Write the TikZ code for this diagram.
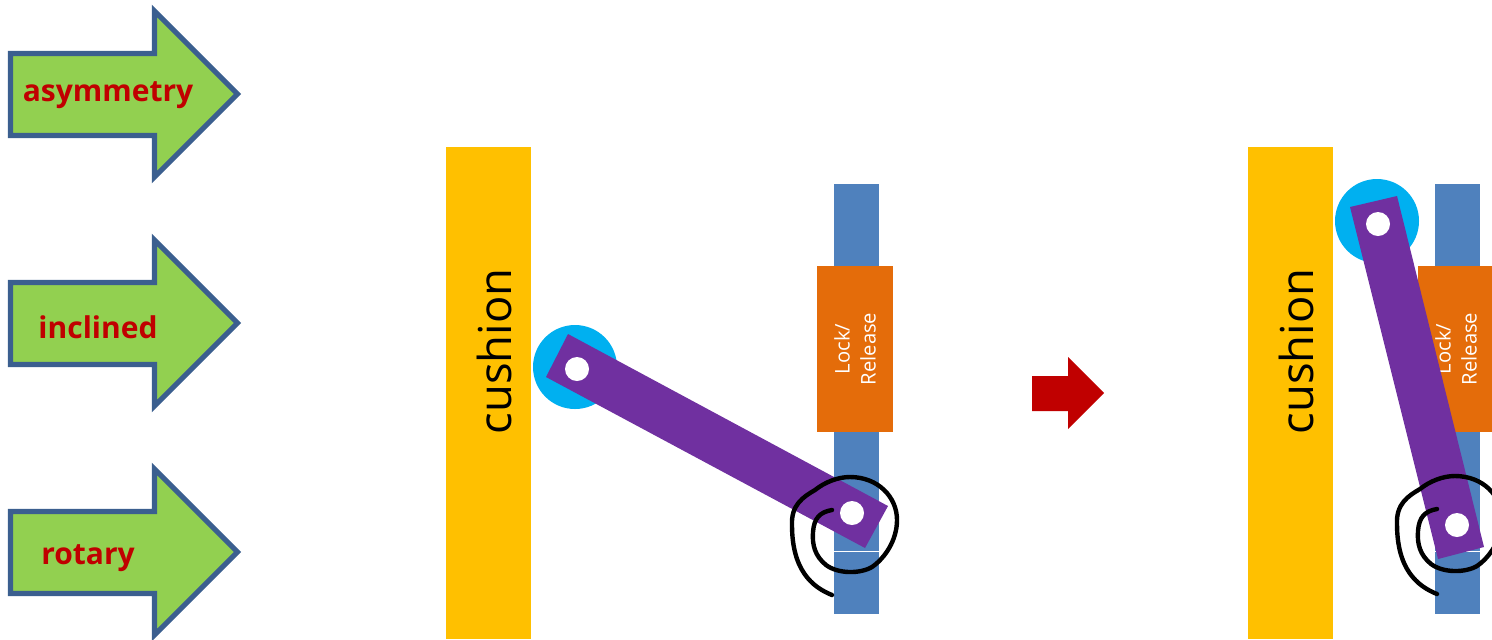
\documentclass[tikz,border=0pt]{standalone}
\usepackage{fontspec}
\setmainfont{Open Sans}
\definecolor{agreen}{HTML}{92D050}
\definecolor{aedge}{HTML}{3B5F8F}
\definecolor{ared}{HTML}{C00000}
\definecolor{cush}{HTML}{FFC000}
\definecolor{rail}{HTML}{4F81BD}
\definecolor{lock}{HTML}{E46C0A}
\definecolor{pivot}{HTML}{00B0F0}
\definecolor{link}{HTML}{7030A0}
\tikzset{
  bigarrow/.style={draw=aedge,fill=agreen,line width=2.6pt,miter limit=10},
  arrowlabel/.style={text=ared,font=\fontsize{15}{18}\selectfont\bfseries,inner sep=0pt,anchor=center},
  cushionbox/.style={fill=cush},
  railbox/.style={fill=rail},
  lockbox/.style={fill=lock},
  pivotdisc/.style={fill=pivot},
  linkbar/.style={fill=link},
  hole/.style={fill=white},
  cushiontext/.style={font=\fontsize{22.7}{24}\selectfont,rotate=90,inner sep=0pt,text=black},
  locktext/.style={font=\fontsize{10.1}{13}\selectfont,rotate=90,inner sep=0pt,text=white,align=center},
  spiral/.style={draw=black,line width=2.2pt,line cap=round,line join=round},
}
\newcommand{\arrowshape}[1]{%
  \draw[bigarrow,yshift=-#1*0.5pt] (10.5,53.5) -- (154.5,53.5) -- (154.5,11) -- (237.5,94) -- (154.5,177) -- (154.5,135.5) -- (10.5,135.5) -- cycle;}
\newcommand{\spiralcurve}{(832,595) .. controls (812,587) and (792,570) .. (792,525) .. controls (791,505) and (803,497) .. (815,490) .. controls (825,482) and (838,477) .. (850,477) .. controls (878,477) and (897,497) .. (897,520) .. controls (897,540) and (885,558) .. (872,567) .. controls (860,574) and (838,574) .. (826,565) .. controls (815,556) and (812,545) .. (813,532) .. controls (814,518) and (820,512) .. (832,510)}
\begin{document}
\begin{tikzpicture}[x=0.5pt,y=-0.5pt]
\useasboundingbox (0,0) rectangle (1492,639);
\clip (0,0) rectangle (1492,639);
% left arrows
\arrowshape{0}
\arrowshape{229}
\arrowshape{458}
\node[arrowlabel] (a1) at (108,95) {asymmetry};
\node[arrowlabel] (a2) at (98,327) {inclined};
\node[arrowlabel] (a3) at (88,558) {rotary};
% left mechanism
\fill[cushionbox] (446,147) rectangle (531,639);
\node[cushiontext] (c1) at (494,351.5) {cushion};
\fill[railbox] (834,184) rectangle (879,614);
\draw[white,line width=0.5pt] (834,551) -- (879,551);
\fill[lockbox] (817,266) rectangle (893,432);
\node[locktext] (l1) at (855,349) {Lock/\\Release};
\fill[pivotdisc] (575,367) circle (42);
\fill[linkbar] (568,334) -- (888,506) -- (865,548) -- (546,377) -- cycle;
\fill[hole] (577,369) circle (12);
\fill[hole] (852,513) circle (12);
\draw[spiral] \spiralcurve;
% red arrow
\fill[ared] (1032,376) -- (1068,376) -- (1068,357) -- (1104,393) -- (1068,429) -- (1068,411) -- (1032,411) -- cycle;
% right mechanism
\fill[cushionbox] (1248,147) rectangle (1333,639);
\node[cushiontext] (c2) at (1296,351.5) {cushion};
\fill[railbox] (1435,184) rectangle (1480,614);
\draw[white,line width=0.5pt] (1435,551) -- (1480,551);
\fill[lockbox] (1418,266) rectangle (1494,432);
\node[locktext] (l2) at (1456,349) {Lock/\\Release};
\fill[pivotdisc] (1377,221) circle (42);
\fill[linkbar] (1350,207) -- (1397,196) -- (1484,547) -- (1438,559) -- cycle;
\fill[hole] (1378,224) circle (12);
\fill[hole] (1457,525) circle (12);
\draw[spiral,xshift=302.5pt,yshift=0.5pt] \spiralcurve;
\end{tikzpicture}
\end{document}
